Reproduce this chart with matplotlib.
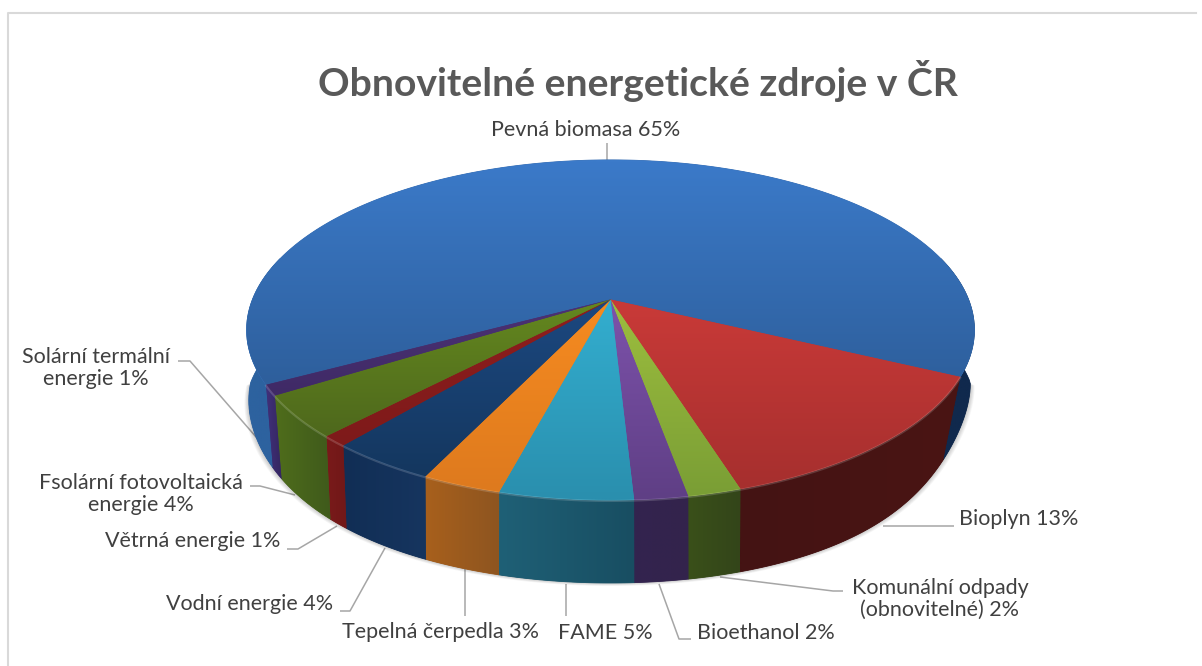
import numpy as np
import matplotlib
matplotlib.use("Agg")
import matplotlib.pyplot as plt
from matplotlib.colors import to_rgb
from matplotlib.patches import Polygon

plt.rcParams['font.family'] = ['Lato', 'DejaVu Sans']

# data
names = ["Pevná biomasa", "Bioplyn", "Komunální odpady\n(obnovitelné)", "Bioethanol", "FAME",
         "Tepelná čerpedla", "Vodní energie", "Větrná energie",
         "Fsolární fotovoltaická\nenergie", "Solární termální\nenergie"]
values = [65, 13, 2, 2, 5, 3, 4, 1, 4, 1]

# colours: top face (upper, lower), wall (left, right)
top_hi = ["#3B7AC9", "#C93A38", "#9DBE3E", "#7D52AB", "#33AECF", "#F68B20", "#1C4880", "#8F1E1E", "#64881F", "#4C3274"]
top_lo = ["#2E5F9C", "#A62F2E", "#7A9E35", "#5F3F85", "#2A8FAE", "#DE7A1E", "#14375F", "#7E1A1A", "#4E681C", "#3F2A66"]
wall_l = ["#2D629F", "#441313", "#3A5019", "#33244F", "#1F6076", "#A8601C", "#112E55", "#7A1A1A", "#4F6D1C", "#41307A"]
wall_r = ["#10294D", "#4A1514", "#33451A", "#33234C", "#184E62", "#8E5520", "#16355F", "#701818", "#3F5A1B", "#342660"]

# label anchor: x, y of text centre, and leader line points
label_pos = [(586, 130), (1019, 519), (940, 599), (766, 633), (605, 633),
             (441, 632), (250, 604), (193, 541), (141, 494), (96, 368)]
leaders = [[(607, 143), (607, 160)],
           [(883, 526), (954, 526)],
           [(720, 577), (833, 591), (843, 591)],
           [(659, 584), (679, 639), (691, 639)],
           [(566, 584), (566, 616)],
           [(465, 568), (465, 616)],
           [(385, 548), (350, 611), (340, 611)],
           [(337, 526), (298, 549), (287, 549)],
           [(295, 495), (260, 486), (250, 486)],
           [(263, 445), (190, 361), (178, 361)]]

# pie geometry in pixels, perspective projection of the disc
cx, cy = 610.5, 299.5
Rx, Ry, k = 358, 164.6, 0.179
end_angle = 25.7
wall_shift = 83


def rim(theta, lower=False):
    t = np.radians(theta)
    u, v = np.cos(t), np.sin(t)
    w = 1 - k * v
    x = Rx * u / w
    y = Ry * v / w
    if lower:
        # bottom edge pulls in a bit on the front corners, more on the right
        pinch = np.where(u > 0, 0.055, 0.025)
        s = 1.005 - pinch * np.sin(np.pi * np.clip(v, 0, 1))
        return cx + s * x, cy + wall_shift + y
    return cx + x, cy + y


def gradient_fill(ax, xs, ys, c1, c2, horizontal, z):
    pts = np.column_stack([xs, ys])
    m = (np.array(to_rgb(c1)) + np.array(to_rgb(c2))) / 2
    poly = Polygon(pts, closed=True, fc=m, ec=m, lw=0.6, zorder=z)
    ax.add_patch(poly)
    ramp = np.linspace(0, 1, 64)[:, None]
    grad = np.array(to_rgb(c1)) * (1 - ramp) + np.array(to_rgb(c2)) * ramp
    if horizontal:
        grad = grad[None, :, :]
    else:
        grad = grad[:, None, :]
    im = ax.imshow(grad, extent=[xs.min(), xs.max(), ys.max(), ys.min()], aspect='auto',
                   zorder=z + 0.1, interpolation='bilinear')
    clip = Polygon(pts, closed=True, transform=ax.transData)
    im.set_clip_path(clip)


fig = plt.figure(figsize=(12.02, 6.66), dpi=100)
ax = fig.add_axes([0, 0, 1, 1])

edges = end_angle - values[0] * 3.6 + np.cumsum([0] + values) * 3.6

# soft shadow under the pie
ring = np.linspace(0, 180, 181)
bx, by = rim(ring, lower=True)
for i in range(1, 7):
    sx = cx + (bx - cx) * (1 + i * 0.002)
    sy = by + i * 0.5
    ax.fill(sx, sy, color="#000000", alpha=0.035, lw=0, zorder=1)

# walls, then top faces
for i in range(len(values)):
    a = np.linspace(edges[i], edges[i + 1], max(int(values[i] * 6), 12))
    if values[i] > 50:
        # the big slice only shows its wall at the two sides
        a_left = np.linspace(edges[i], -165, 30)
        a_right = np.linspace(-15, edges[i + 1], 30)
        for p, c in ((a_left, wall_l[i]), (a_right, wall_r[i])):
            x1, y1 = rim(p)
            x2, y2 = rim(p[::-1], lower=True)
            gradient_fill(ax, np.r_[x1, x2], np.r_[y1, y2], c, c, True, 2)
        continue
    x1, y1 = rim(a)
    x2, y2 = rim(a[::-1], lower=True)
    gradient_fill(ax, np.r_[x1, x2], np.r_[y1, y2], wall_l[i], wall_r[i], True, 2 + i * 0.01)

for i in range(len(values)):
    a = np.linspace(edges[i], edges[i + 1], max(int(values[i] * 6), 12))
    x, y = rim(a)
    xs = np.r_[cx, x]
    ys = np.r_[cy, y]
    gradient_fill(ax, xs, ys, top_hi[i], top_lo[i], False, 3 + i * 0.01)

# light bevel along the front edge of the top face
a = np.linspace(edges[1], edges[-1], 200)
x, y = rim(a)
ax.plot(x, y + 1, color="white", alpha=0.16, lw=1.5, zorder=4)

# leaders and labels
for pts in leaders:
    p = np.array(pts)
    ax.plot(p[:, 0], p[:, 1], color="#A6A6A6", lw=1.1, zorder=0.8, solid_capstyle='butt')

for name, val, pos in zip(names, values, label_pos):
    ax.text(pos[0], pos[1], f"{name} {val}%", ha='center', va='center', fontsize=15.5,
            color="#404040", linespacing=1.1, zorder=5)

ax.text(638, 81, "Obnovitelné energetické zdroje v ČR", ha='center', va='center',
        fontsize=28.2, fontweight='bold', color="#595959", zorder=5)

# chart frame
ax.plot([8, 8, 1196], [666, 12.5, 12.5], color="#D9D9D9", lw=1.5, zorder=0.5)

ax.set_xlim(0, 1202)
ax.set_ylim(666, 0)
ax.axis('off')

plt.savefig("out.png", dpi=100)
